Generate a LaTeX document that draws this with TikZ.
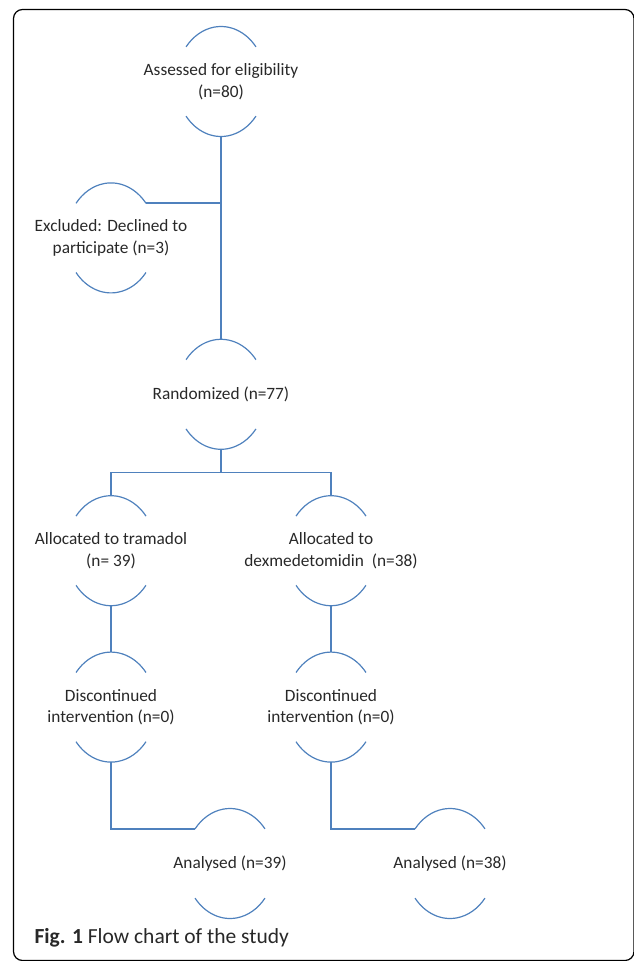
\documentclass[tikz,border=0pt]{standalone}
\usepackage{fontspec}
\setmainfont{Carlito}
\usepackage{xcolor}
\usepackage{tikz}
\usetikzlibrary{positioning,calc}
\definecolor{arcblue}{RGB}{79,129,189}
\definecolor{inkgray}{RGB}{40,40,40}
\tikzset{
  stage/.style={minimum width=90pt, minimum height=110pt, inner sep=0pt,
                align=center, text=inkgray, font=\fontsize{17.3}{21.7}\selectfont},
  halfarc/.style={draw=arcblue, line width=1.2pt},
  link/.style={draw=arcblue, line width=1.6pt},
}

\begin{document}
\begin{tikzpicture}[node distance=46pt]
  \useasboundingbox (0,0) rectangle (633pt,-961pt);
  \draw[line width=1.2pt, rounded corners=9pt] (13.5pt,-9.5pt) rectangle (634pt,-960.5pt);

  \node[stage] (assess) at (221pt,-81.5pt) {Assessed for eligibility\\(n=80)};
  \node[stage, below=of assess, xshift=-110pt] (excl) {Excluded: Declined to\\participate (n=3)};
  \node[stage, below=of excl, xshift=110pt]    (rand) {Randomized (n=77)};
  \node[stage, below=of rand, xshift=-110pt]   (allocT) {Allocated to tramadol\\(n= 39)};
  \node[stage, below=of rand, xshift=110pt]    (allocD) {Allocated to\\dexmedetomidin\ \ (n=38)};
  \node[stage, below=of allocT]                (discT) {Discontinued\\intervention (n=0)};
  \node[stage, below=of allocD]                (discD) {Discontinued\\intervention (n=0)};
  \node[stage, below=of discT, xshift=119pt]   (anaT) {Analysed (n=39)};
  \node[stage, below=of discD, xshift=119pt]   (anaD) {Analysed (n=38)};

  % open circles: only the top and bottom arcs
  \foreach \n in {assess,excl,rand,allocT,allocD,discT,discD,anaT,anaD} {
    \coordinate (\n-ne) at ($(\n.center)+(39:45pt and 55pt)$);
    \coordinate (\n-nw) at ($(\n.center)+(141:45pt and 55pt)$);
    \draw[halfarc] (\n-ne) arc[start angle=39, end angle=141, x radius=45pt, y radius=55pt];
    \draw[halfarc] ($(\n.center)+(219:45pt and 55pt)$) arc[start angle=219, end angle=321, x radius=45pt, y radius=55pt];
  }

  \coordinate (fork) at ($(rand.south)!0.5!(rand.south |- allocT.north)$);

  \draw[link] (assess.south) -- (rand.north);
  \draw[link] (excl-ne) -- (excl-ne -| assess.south);
  \draw[link] (rand.south) -- (fork);
  \draw[link] (allocT.north) |- (fork) -| (allocD.north);
  \draw[link] (allocT.south) -- (discT.north);
  \draw[link] (allocD.south) -- (discD.north);
  \draw[link] (discT.south) |- (anaT-nw);
  \draw[link] (discD.south) |- (anaD-nw);

  \node[anchor=base west, font=\fontsize{21.5}{26}\selectfont, text=inkgray] (caption)
    at (31pt,-943pt) {\textbf{Fig. 1} Flow chart of the study};
\end{tikzpicture}
\end{document}
